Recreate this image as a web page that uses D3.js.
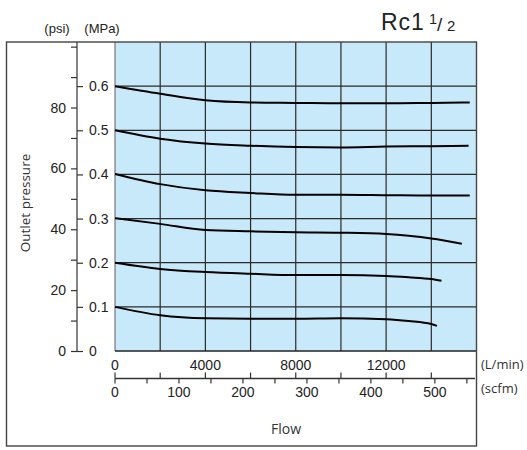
<!DOCTYPE html>
<html><head><meta charset="utf-8">
<script src="https://cdn.jsdelivr.net/npm/d3@7"></script>
<style>
html,body{margin:0;padding:0;background:#fff;}
svg{display:block;}
</style></head>
<body>
<svg id="chart" width="527" height="450"></svg>
<script>
// ---- data (flow in L/min, outlet pressure in MPa) ----
const flow06 = [0, 2000, 4000, 6000, 8000, 10000, 12000, 14000, 15700];
const pres06 = [0.600, 0.583, 0.568, 0.563, 0.562, 0.561, 0.561, 0.562, 0.563];
const flow05 = [0, 2000, 4000, 6000, 8000, 10000, 12000, 14000, 15650];
const pres05 = [0.500, 0.481, 0.470, 0.465, 0.462, 0.461, 0.463, 0.464, 0.465];
const flow04 = [0, 2000, 4000, 6000, 8000, 10000, 12000, 14000, 15700];
const pres04 = [0.401, 0.378, 0.364, 0.358, 0.354, 0.354, 0.353, 0.352, 0.352];
const flow03 = [0, 2000, 4000, 6000, 8000, 10000, 12000, 13000, 14000, 15350];
const pres03 = [0.301, 0.288, 0.274, 0.271, 0.269, 0.268, 0.265, 0.261, 0.255, 0.243];
const flow02 = [0, 2000, 4000, 6000, 8000, 10000, 12000, 13000, 14000, 14450];
const pres02 = [0.200, 0.186, 0.179, 0.175, 0.172, 0.172, 0.170, 0.167, 0.163, 0.159];
const flow01 = [0, 2000, 4000, 6000, 8000, 10000, 12000, 13000, 14000, 14250];
const pres01 = [0.100, 0.081, 0.074, 0.073, 0.073, 0.074, 0.072, 0.068, 0.061, 0.057];

const psiTicks = [0, 20, 40, 60, 80];
const psiMinor = [0, 10, 20, 30, 40, 50, 60, 70, 80, 90, 100];
const mpaTicks = [0, 0.1, 0.2, 0.3, 0.4, 0.5, 0.6];
const lminLabels = [0, 4000, 8000, 12000];
const lminGrid = [2000, 4000, 6000, 8000, 10000, 12000, 14000];
const scfmLabels = [0, 100, 200, 300, 400, 500];
const scfmMinor = [0, 50, 100, 150, 200, 250, 300, 350, 400, 450, 500, 550];
const lminUpTicks = [0, 2000, 4000, 6000, 8000, 10000, 12000, 14000];

const PSI_PER_MPA = 145.038;
const LMIN_PER_SCFM = 28.317;

// ---- layout ----
const svg = d3.select("#chart");
const PL = 115, PR = 476.5, PT = 42, PB = 351;
const x = d3.scaleLinear().domain([0, 16000]).range([PL, PR]);
const y = d3.scaleLinear().domain([0, 0.7]).range([PB, PT]);
const yPsi = d3.scaleLinear().domain([0, 0.7 * PSI_PER_MPA]).range([PB, PT]);
const xScfm = d3.scaleLinear().domain([0, 16000 / LMIN_PER_SCFM]).range([PL, PR]);

const numFont = "'Liberation Sans', Arial, sans-serif";
const lblFont = "'Open Sans', 'Noto Sans', sans-serif";

// plot background
svg.append("rect").attr("x", PL).attr("y", PT).attr("width", PR - PL).attr("height", PB - PT)
  .attr("fill", "#c8e9fa");

// grid
const grid = svg.append("g").attr("stroke", "#2a2a2a").attr("stroke-width", 1.2);
mpaTicks.filter(d => d > 0).forEach(d => {
  grid.append("line").attr("x1", PL).attr("x2", PR).attr("y1", y(d)).attr("y2", y(d));
});
lminGrid.forEach(d => {
  grid.append("line").attr("x1", x(d)).attr("x2", x(d)).attr("y1", PT).attr("y2", PB);
});
// plot borders
svg.append("line").attr("x1", PL).attr("x2", PL).attr("y1", PT).attr("y2", PB).attr("stroke", "#777").attr("stroke-width", 1.2);
svg.append("line").attr("x1", PL).attr("x2", PR).attr("y1", PB).attr("y2", PB).attr("stroke", "#222").attr("stroke-width", 1.4);

// outer frame
svg.append("rect").attr("x", 6.5).attr("y", 42).attr("width", 470).attr("height", 404)
  .attr("fill", "none").attr("stroke", "#444").attr("stroke-width", 1.4);

// curves
const line = d3.line().x(d => x(d[0])).y(d => y(d[1])).curve(d3.curveMonotoneX);
const series = [[flow06, pres06], [flow05, pres05], [flow04, pres04], [flow03, pres03], [flow02, pres02], [flow01, pres01]];
series.forEach(([f, p]) => {
  svg.append("path").datum(f.map((v, i) => [v, p[i]])).attr("d", line)
    .attr("fill", "none").attr("stroke", "#000").attr("stroke-width", 2);
});

// y axes (psi left ticks, MPa right ticks) on a shared line
const AX = 77;
const psiAxis = d3.axisLeft(yPsi).tickValues(psiMinor).tickSize(6).tickSizeOuter(0).tickPadding(5)
  .tickFormat(d => psiTicks.includes(d) ? d : "");
const gPsi = svg.append("g").attr("transform", `translate(${AX},0)`).call(psiAxis);
gPsi.select(".domain").remove();
svg.append("line").attr("x1", AX).attr("x2", AX).attr("y1", PT).attr("y2", yPsi(0)).attr("stroke", "#333").attr("stroke-width", 1.2);
const mpaAxis = d3.axisRight(y).tickValues(mpaTicks).tickSize(6).tickPadding(6)
  .tickFormat(d => d === 0 ? "0" : d3.format(".1f")(d));
const gMpa = svg.append("g").attr("transform", `translate(${AX},0)`).call(mpaAxis);
gMpa.select(".domain").remove();
[gPsi, gMpa].forEach(g => {
  g.selectAll(".tick line").attr("stroke", "#333").attr("stroke-width", 1.2);
  g.selectAll(".tick text").attr("font-family", numFont).attr("font-size", 14).attr("fill", "#222");
});

// unit labels
svg.append("text").attr("x", 57).attr("y", 33).attr("text-anchor", "middle")
  .attr("font-family", numFont).attr("font-size", 13).attr("fill", "#222").text("(psi)");
svg.append("text").attr("x", 102).attr("y", 33).attr("text-anchor", "middle")
  .attr("font-family", numFont).attr("font-size", 13).attr("fill", "#222").text("(MPa)");

// y title
svg.append("text").attr("transform", "translate(30,203) rotate(-90)").attr("text-anchor", "middle")
  .attr("font-family", lblFont).attr("font-size", 13.5).attr("fill", "#333").text("Outlet pressure");

// x L/min labels
svg.append("g").selectAll("text").data(lminLabels).join("text")
  .attr("x", d => x(d)).attr("y", 370).attr("text-anchor", "middle")
  .attr("font-family", numFont).attr("font-size", 14).attr("fill", "#222").text(d => d);
svg.append("text").attr("x", 481).attr("y", 368.5).attr("font-family", lblFont).attr("font-size", 13)
  .attr("fill", "#333").text("(L/min)");

// scfm axis
const SY = 378.5;
svg.append("line").attr("x1", PL).attr("x2", 475).attr("y1", SY).attr("y2", SY).attr("stroke", "#333").attr("stroke-width", 1.3);
svg.append("g").selectAll("line").data(lminUpTicks).join("line")
  .attr("x1", d => x(d)).attr("x2", d => x(d)).attr("y1", SY).attr("y2", SY - 6)
  .attr("stroke", "#333").attr("stroke-width", 1.2);
svg.append("g").selectAll("line").data(scfmMinor).join("line")
  .attr("x1", d => xScfm(d)).attr("x2", d => xScfm(d)).attr("y1", SY).attr("y2", SY + 5)
  .attr("stroke", "#333").attr("stroke-width", 1.2);
svg.append("g").selectAll("text").data(scfmLabels).join("text")
  .attr("x", d => xScfm(d)).attr("y", 397).attr("text-anchor", "middle")
  .attr("font-family", numFont).attr("font-size", 14).attr("fill", "#222").text(d => d);
svg.append("text").attr("x", 481).attr("y", 392.5).attr("font-family", lblFont).attr("font-size", 13)
  .attr("fill", "#333").text("(scfm)");

// x title
svg.append("text").attr("x", 286).attr("y", 434).attr("text-anchor", "middle")
  .attr("font-family", lblFont).attr("font-size", 14).attr("fill", "#333").text("Flow");

// title Rc1 1/2
const tf = "'Liberation Sans', Arial, sans-serif";
svg.append("text").attr("x", 381).attr("y", 29.5).attr("font-family", tf).attr("font-size", 23)
  .attr("letter-spacing", 1).attr("fill", "#222").text("Rc1");
svg.append("text").attr("x", 429).attr("y", 24).attr("font-family", tf).attr("font-size", 14.5).attr("fill", "#222").text("1");
svg.append("text").attr("x", 437).attr("y", 31).attr("font-family", tf).attr("font-size", 19).attr("fill", "#222").text("/");
svg.append("text").attr("x", 447).attr("y", 30.5).attr("font-family", tf).attr("font-size", 15).attr("fill", "#222").text("2");
</script>
</body></html>
